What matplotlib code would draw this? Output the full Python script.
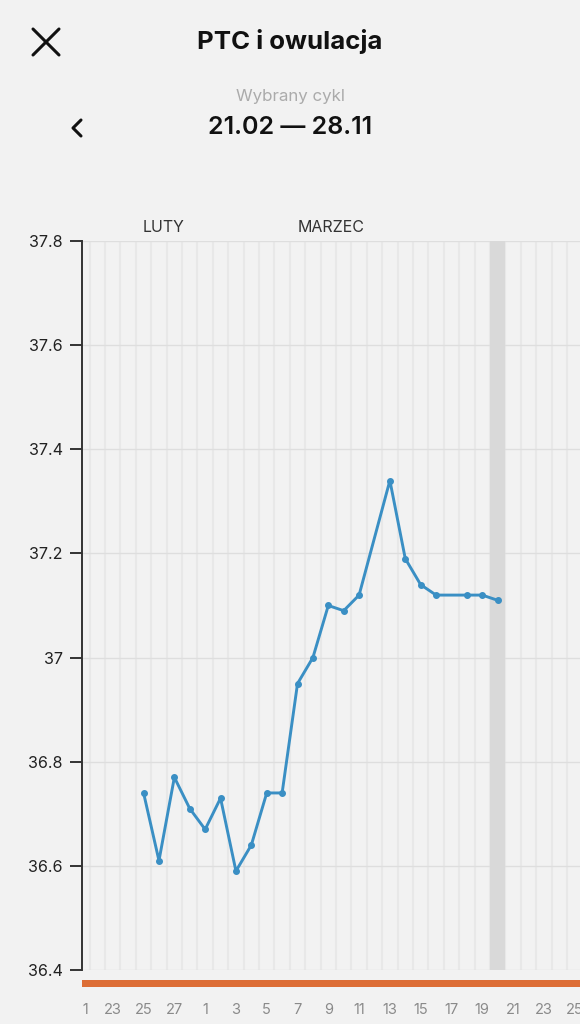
import matplotlib
matplotlib.use('Agg')
import matplotlib.pyplot as plt
from matplotlib.lines import Line2D
from matplotlib.patches import Rectangle
from matplotlib.transforms import Bbox, TransformedBbox, blended_transform_factory

# Dane: dzien liczony od 21.02 (0) i temperatura PTC
dni = [4, 5, 6, 7, 8, 9, 10, 11, 12, 13, 14, 15, 16, 17, 18, 20, 21, 22, 23, 25, 26, 27]
temperatury = [36.74, 36.61, 36.77, 36.71, 36.67, 36.73, 36.59, 36.64, 36.74, 36.74,
               36.95, 37.00, 37.10, 37.09, 37.12, 37.34, 37.19, 37.14, 37.12, 37.12,
               37.12, 37.11]

# Etykiety osi X (co drugi dzien) i osi Y
etykiety_x = ['21', '23', '25', '27', '1', '3', '5', '7', '9', '11', '13', '15',
              '17', '19', '21', '23', '25']
wartosci_y = [36.4, 36.6, 36.8, 37.0, 37.2, 37.4, 37.6, 37.8]
etykiety_y = ['36.4', '36.6', '36.8', '37', '37.2', '37.4', '37.6', '37.8']

miesiace = ['LUTY', 'MARZEC']
pozycje_miesiecy = [5.3, 16.2]
dzien_zaznaczony = 27

plt.rcParams['font.family'] = ['Inter', 'DejaVu Sans']

W, H = 580, 1024
fig = plt.figure(figsize=(W / 100, H / 100), dpi=100, facecolor='#F2F2F2')


def px(x, y):
    return x / W, 1 - y / H


# Naglowek
fig.text(*px(290, 42), 'PTC i owulacja', ha='center', va='center',
         fontsize=18.6, fontweight='bold', color='#111111')
fig.text(*px(290, 96), 'Wybrany cykl', ha='center', va='center',
         fontsize=12.2, color='#ABABAB')
fig.text(*px(290, 128), '21.02 — 28.11', ha='center', va='center',
         fontsize=18, fontweight='semibold', color='#111111')

# Ikona X i strzalka wstecz
for (x0, y0, x1, y1) in [(33, 29, 59, 55), (59, 29, 33, 55)]:
    fig.add_artist(Line2D([x0 / W, x1 / W], [1 - y0 / H, 1 - y1 / H],
                          transform=fig.transFigure, color='#111111', lw=2.2,
                          solid_capstyle='round'))
fig.add_artist(Line2D([81 / W, 73 / W, 81 / W], [1 - 120 / H, 1 - 128 / H, 1 - 136 / H],
                      transform=fig.transFigure, color='#111111', lw=2.2,
                      solid_capstyle='round', solid_joinstyle='round'))

# Wykres
ax = fig.add_axes([82 / W, 1 - 970 / H, 1 - 82 / W, (970 - 241) / H])
ax.set_facecolor('#F2F2F2')

ax.axvspan(dzien_zaznaczony - 0.5, dzien_zaznaczony + 0.5, color='#D9D9D9', zorder=1, lw=0)
ax.plot(dni, temperatury, color='#3A8FC4', lw=2.1, marker='o', markersize=4, zorder=3)

ax.set_xticks(range(0, 33, 2))
ax.set_xticklabels(etykiety_x)
ax.set_xticks([d + 0.5 for d in range(0, 33)], minor=True)
ax.set_yticks(wartosci_y)
ax.set_yticklabels(etykiety_y)
ax.set_xlim(0, 32.35)
ax.set_ylim(36.4, 37.8)

ax.grid(axis='x', which='minor', color='#E8E8E8', lw=1.5, zorder=0)
ax.grid(axis='y', which='major', color='#DEDEDE', lw=1.0, zorder=0)
ax.set_axisbelow(True)

for s in ['top', 'right', 'bottom']:
    ax.spines[s].set_visible(False)
ax.spines['left'].set_color('#333333')
ax.spines['left'].set_linewidth(1.4)

ax.tick_params(axis='x', which='both', length=0, pad=24, labelsize=10.5, labelcolor='#8A8A8A')
ax.tick_params(axis='y', length=9, width=1.4, color='#333333', pad=5,
               labelsize=11.6, labelcolor='#222222')

# Etykiety osi X przyciete do obszaru wykresu
klip = TransformedBbox(Bbox([[0.003, -0.2], [1, 1]]), ax.transAxes)
for lbl in ax.get_xticklabels():
    lbl.set_clip_box(klip)
    lbl.set_clip_on(True)

# Nazwy miesiecy
trans = blended_transform_factory(ax.transData, ax.transAxes)
for nazwa, poz in zip(miesiace, pozycje_miesiecy):
    ax.text(poz, 1.018, nazwa, transform=trans, ha='center', va='center',
            fontsize=11.5, color='#333333', clip_on=False)

# Pomaranczowy pasek pod wykresem
fig.add_artist(Rectangle(px(82, 987), 1, 7 / H, transform=fig.transFigure,
                         color='#DD6E36', lw=0))

fig.savefig('out.png', dpi=100, facecolor=fig.get_facecolor())
